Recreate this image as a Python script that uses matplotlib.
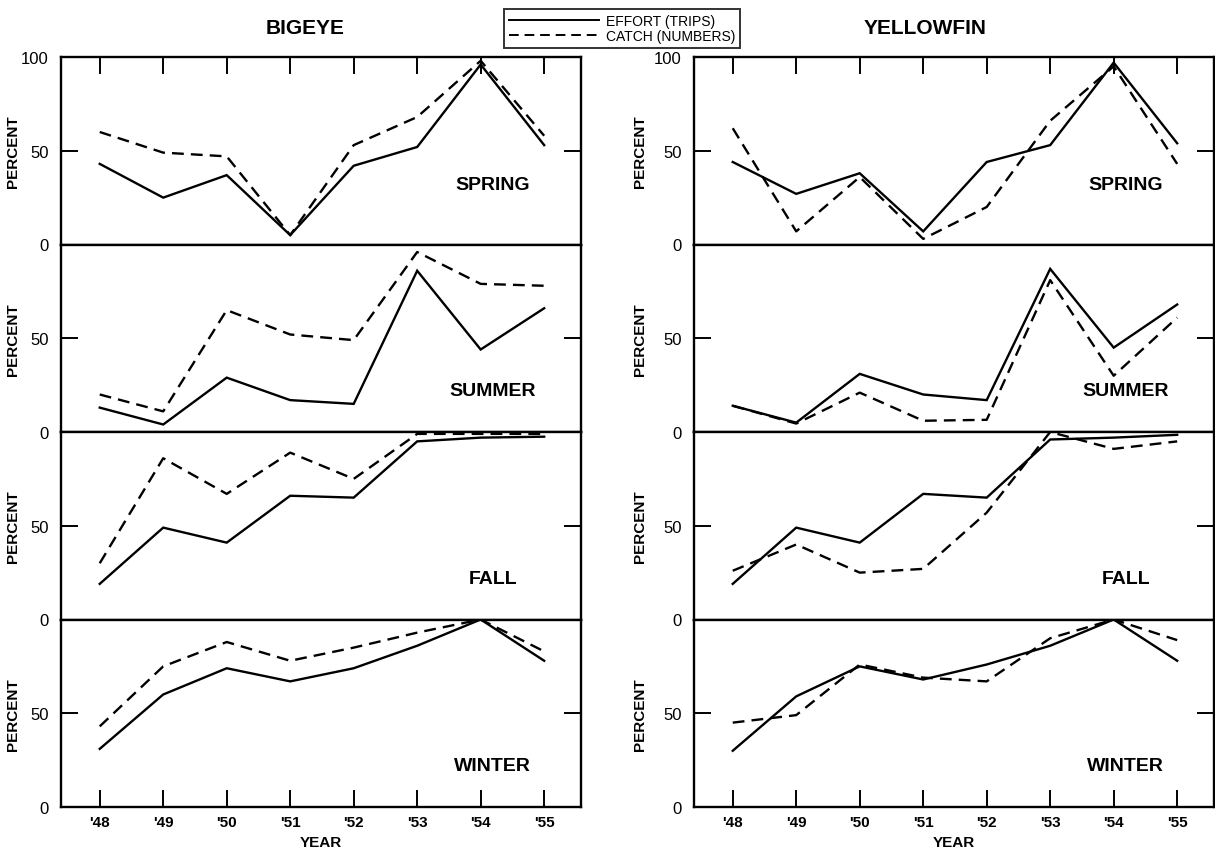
import matplotlib
matplotlib.use("Agg")
import matplotlib.pyplot as plt
from matplotlib.lines import Line2D

plt.rcParams['font.family'] = ['Liberation Sans', 'DejaVu Sans']

years = [48, 49, 50, 51, 52, 53, 54, 55]
year_labels = ["'48", "'49", "'50", "'51", "'52", "'53", "'54", "'55"]
seasons = ["SPRING", "SUMMER", "FALL", "WINTER"]
species = ["BIGEYE", "YELLOWFIN"]

# Bigeye: effort (trips) and catch (numbers), percent
bigeye_effort_spring = [43, 25, 37, 5, 42, 52, 96, 53]
bigeye_catch_spring = [60, 49, 47, 5, 53, 68, 98, 58]
bigeye_effort_summer = [13, 4, 29, 17, 15, 86, 44, 66]
bigeye_catch_summer = [20, 11, 65, 52, 49, 96, 79, 78]
bigeye_effort_fall = [19, 49, 41, 66, 65, 95, 97, 97.5]
bigeye_catch_fall = [30, 86, 67, 89, 75, 99, 99, 99]
bigeye_effort_winter = [31, 60, 74, 67, 74, 86, 100, 78]
bigeye_catch_winter = [43, 75, 88, 78, 85, 93, 100, 83]

# Yellowfin
yellowfin_effort_spring = [44, 27, 38, 7, 44, 53, 97, 54]
yellowfin_catch_spring = [62, 7, 36, 3, 20, 66, 95, 43]
yellowfin_effort_summer = [14, 5, 31, 20, 17, 87, 45, 68]
yellowfin_catch_summer = [14, 4.5, 21, 6, 6.5, 81, 30, 61]
yellowfin_effort_fall = [19, 49, 41, 67, 65, 96, 97, 98.5]
yellowfin_catch_fall = [26, 40, 25, 27, 57, 100, 91, 95]
yellowfin_effort_winter = [30, 59, 75, 68, 76, 86, 100, 78]
yellowfin_catch_winter = [45, 49, 76, 69, 67, 90, 100, 89]

effort = {
    "BIGEYE": [bigeye_effort_spring, bigeye_effort_summer, bigeye_effort_fall, bigeye_effort_winter],
    "YELLOWFIN": [yellowfin_effort_spring, yellowfin_effort_summer, yellowfin_effort_fall, yellowfin_effort_winter],
}
catch = {
    "BIGEYE": [bigeye_catch_spring, bigeye_catch_summer, bigeye_catch_fall, bigeye_catch_winter],
    "YELLOWFIN": [yellowfin_catch_spring, yellowfin_catch_summer, yellowfin_catch_fall, yellowfin_catch_winter],
}

W, H = 1215, 853
fig = plt.figure(figsize=(W / 100, H / 100), dpi=100)

col_left_px = [61, 694]
ylabel_x = [-0.079, -0.09]
col_width_px = 520
top_px = 58
panel_h_px = 187.5

lw = 1.7
dash = (0, (5, 3))

for ci, sp in enumerate(species):
    for ri, season in enumerate(seasons):
        l = col_left_px[ci] / W
        b = 1 - (top_px + (ri + 1) * panel_h_px) / H
        ax = fig.add_axes([l, b, col_width_px / W, panel_h_px / H])
        ax.plot(years, effort[sp][ri], color='black', lw=lw, solid_joinstyle='miter')
        ax.plot(years, catch[sp][ri], color='black', lw=lw, linestyle=dash)
        ax.set_xlim(47.39, 55.58)
        ax.set_ylim(0, 100)
        for s in ax.spines.values():
            s.set_linewidth(1.7)
        ax.set_yticks([0, 50, 100])
        if ri == 0:
            ax.set_yticklabels(['0', '50', '100'])
        else:
            ax.set_yticklabels(['0', '50', ''])
        ax.tick_params(axis='y', direction='in', length=12, width=1.4,
                       left=True, right=True, labelsize=12, pad=9)
        ax.set_xticks(years)
        if ri == 0:
            ax.tick_params(axis='x', direction='in', length=12, width=1.4,
                           top=True, bottom=False, labelbottom=False, labeltop=False)
        elif ri == 3:
            ax.set_xticklabels(year_labels)
            ax.tick_params(axis='x', direction='in', length=12, width=1.4,
                           top=False, bottom=True, labelsize=11, pad=6)
            for t in ax.get_xticklabels():
                t.set_fontweight('bold')
            ax.set_xlabel('YEAR', fontsize=11, fontweight='bold', labelpad=4)
        else:
            ax.tick_params(axis='x', bottom=False, top=False, labelbottom=False)
        ax.set_ylabel('PERCENT', fontsize=11, fontweight='bold')
        ax.yaxis.set_label_coords(ylabel_x[ci], 0.5)
        ax.text(0.83, 0.32 if ri == 0 else 0.22, season, transform=ax.transAxes,
                ha='center', va='center', fontsize=14, fontweight='bold')

fig.text(305 / W, 1 - 28 / H, 'BIGEYE', ha='center', va='center', fontsize=15, fontweight='bold')
fig.text(925 / W, 1 - 28 / H, 'YELLOWFIN', ha='center', va='center', fontsize=15, fontweight='bold')

handles = [Line2D([], [], color='black', lw=1.4),
           Line2D([], [], color='black', lw=1.4, linestyle=dash)]
leg = fig.legend(handles, ['EFFORT (TRIPS)', 'CATCH (NUMBERS)'],
                 loc='upper center', bbox_to_anchor=(622 / W, 1 - 3 / H),
                 fontsize=10, handlelength=6.5, labelspacing=0.1,
                 borderpad=0.35, handletextpad=0.5, frameon=True, fancybox=False)
leg.get_frame().set_edgecolor('black')
leg.get_frame().set_linewidth(1.4)

fig.savefig('out.png', dpi=100)
